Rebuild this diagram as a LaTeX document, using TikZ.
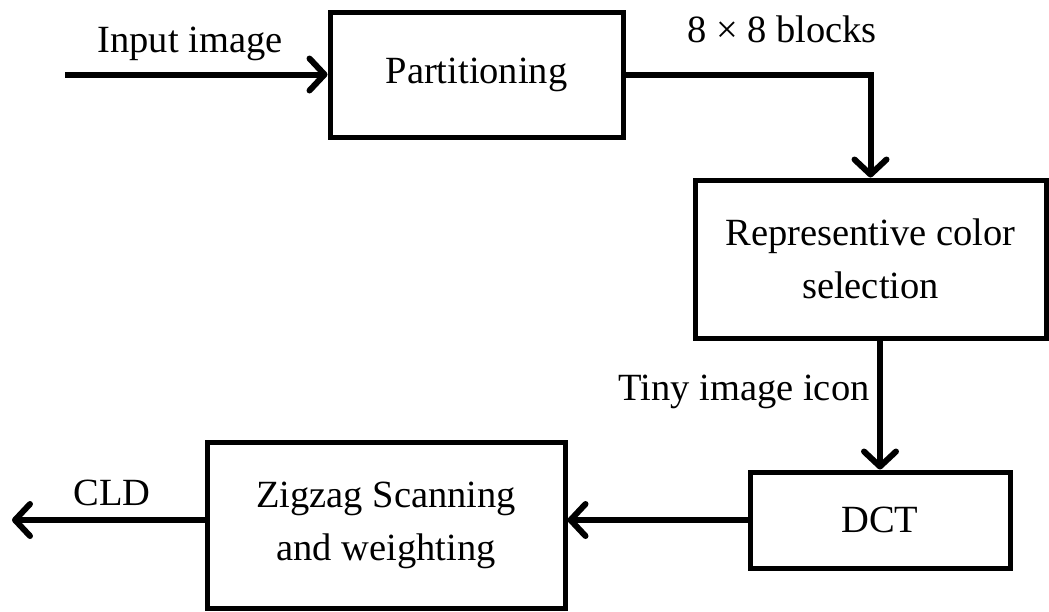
\documentclass[tikz,border=0pt]{standalone}
\usepackage{fontspec}
\setmainfont{Liberation Serif}
\usetikzlibrary{arrows.meta}
\begin{document}
\begin{tikzpicture}[x=1pt,y=-1pt,
  blockbox/.style={draw, line width=5pt, inner sep=0pt, align=center,
    font=\fontsize{38.5}{53}\selectfont},
  lbl/.style={anchor=base, inner sep=0pt, font=\fontsize{38.5}{46}\selectfont},
  flow/.style={line width=6pt, -{Straight Barb[length=15pt,width=32pt,round]}}]
\useasboundingbox (0,0) rectangle (1049,611);
% processing blocks
\node[blockbox, minimum width=293pt, minimum height=125pt] (part) at (476.5,74.5) {Partitioning};
\node[blockbox, minimum width=351pt, minimum height=158pt] (rep) at (870.5,259) {Representive color\\selection};
\node[blockbox, minimum width=260pt, minimum height=96pt] (dct) at (880,520) {DCT};
\node[blockbox, minimum width=358pt, minimum height=166pt] (zig) at (386,525) {Zigzag Scanning\\and weighting};
% free ends of the input and output arrows
\coordinate (src) at (65,74.5);
\coordinate (out) at (12,520);
% connectors
\draw[flow] (src) -- (part.west);
\draw[flow] (part.east) -| (rep.north);
\draw[flow] (rep.south -| dct.north) -- (dct.north);
\draw[flow] (dct.west) -- (dct.west -| zig.east);
\draw[flow] (out -| zig.west) -- (out);
% signal labels
\node[lbl] (inlbl) at (190,52) {Input image};
\node[lbl] (blk) at (782,42) {8 × 8 blocks};
\node[lbl] (tiny) at (744,400) {Tiny image icon};
\node[lbl] (cld) at (112,505) {CLD};
\end{tikzpicture}
\end{document}
